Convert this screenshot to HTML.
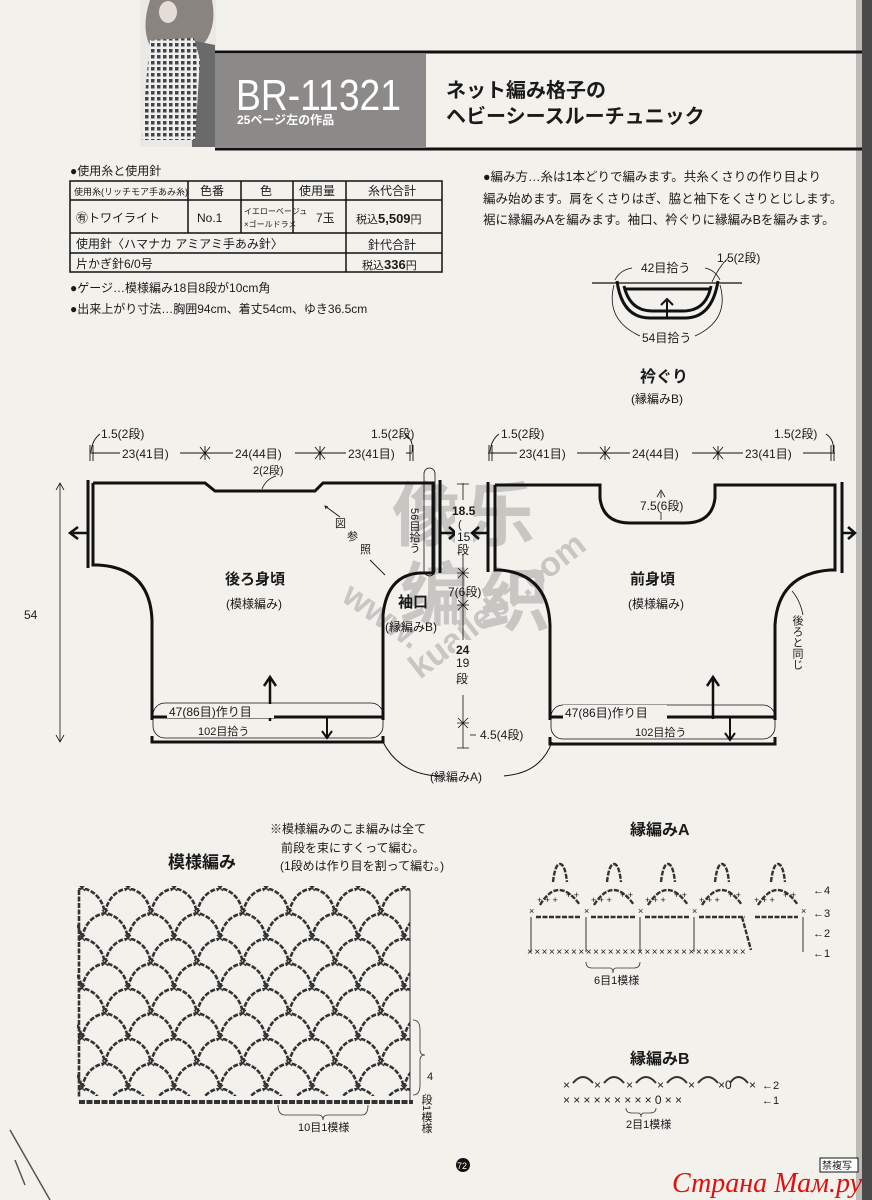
<!DOCTYPE html>
<html><head><meta charset="utf-8">
<style>
html,body{margin:0;padding:0;background:#f3f1ec;}
svg{display:block;}
text{font-family:"Liberation Sans","Noto Sans CJK JP",sans-serif;fill:#1a1a1a;}
</style></head>
<body>
<svg width="872" height="1200" viewBox="0 0 872 1200" xmlns="http://www.w3.org/2000/svg">
<defs>
<pattern id="net" patternUnits="userSpaceOnUse" x="13" y="888" width="46" height="50">
<g fill="none" stroke="#333" stroke-width="2.6" stroke-dasharray="5 1.5">
<path d="M0,25 Q4,4 23,0 Q42,4 46,25"/>
<path d="M-23,50 Q-19,29 0,25 Q19,29 23,50"/>
<path d="M23,50 Q27,29 46,25 Q65,29 69,50"/>
<path d="M-23,0 Q-19,-21 0,-25 Q19,-21 23,0"/>
<path d="M23,0 Q27,-21 46,-25 Q65,-21 69,0"/>
</g>
<g stroke="#333" stroke-width="1.2">
<path d="M-3,22 l6,6 M3,22 l-6,6 M43,22 l6,6 M49,22 l-6,6 M20,47 l6,6 M26,47 l-6,6 M20,-3 l6,6 M26,-3 l-6,6"/>
</g>
</pattern>
<pattern id="shirt" patternUnits="userSpaceOnUse" width="6" height="6">
<rect width="6" height="6" fill="#eee"/><rect x="1" y="1" width="3.5" height="3.5" fill="#444"/>
</pattern>
</defs>

<rect x="862" y="0" width="10" height="1200" fill="#4a4a4a"/>
<rect x="856" y="0" width="6" height="1200" fill="#bdbbb6"/>

<rect x="140" y="0" width="76" height="147" fill="#ebe9e5"/>
<path d="M150,0 Q140,30 152,50 L200,48 Q218,30 212,0 Z" fill="#8a8480"/>
<path d="M190,40 L215,45 L215,147 L192,147 Z" fill="#6a6a6a"/>
<path d="M150,40 L194,38 L200,60 L195,140 L142,140 Q145,90 150,40 Z" fill="url(#shirt)"/>
<ellipse cx="168" cy="12" rx="9" ry="11" fill="#e4dcd6"/>

<line x1="215" y1="52" x2="862" y2="52" stroke="#111" stroke-width="3"/>
<line x1="215" y1="149" x2="862" y2="149" stroke="#111" stroke-width="3"/>
<rect x="215" y="54" width="211" height="94" fill="#8c8a88"/>
<text x="236" y="110" font-size="44" style="fill:#fff" textLength="165" lengthAdjust="spacingAndGlyphs">BR-11321</text>
<text x="237" y="124" font-size="12" style="fill:#fff;font-weight:bold">25ページ左の作品</text>
<text x="446" y="97" font-size="20" font-weight="bold">ネット編み格子の</text>
<text x="446" y="123" font-size="20" font-weight="bold">ヘビーシースルーチュニック</text>

<text x="70" y="175" font-size="12">●使用糸と使用針</text>
<g fill="none" stroke="#111" stroke-width="1.5">
<rect x="70" y="181" width="372" height="91"/>
<line x1="70" y1="200" x2="442" y2="200"/>
<line x1="70" y1="233" x2="442" y2="233"/>
<line x1="70" y1="253" x2="442" y2="253"/>
<line x1="188" y1="181" x2="188" y2="233"/>
<line x1="241" y1="181" x2="241" y2="233"/>
<line x1="293" y1="181" x2="293" y2="233"/>
<line x1="346" y1="181" x2="346" y2="272"/>
</g>
<text x="74" y="195" font-size="9">使用糸(リッチモア手あみ糸)</text>
<text x="200" y="195" font-size="12">色番</text>
<text x="260" y="195" font-size="12">色</text>
<text x="299" y="195" font-size="12">使用量</text>
<text x="368" y="195" font-size="12">糸代合計</text>
<text x="76" y="222" font-size="12">㊒トワイライト</text>
<text x="197" y="222" font-size="12">No.1</text>
<text x="244" y="214" font-size="8">イエローベージュ</text>
<text x="244" y="227" font-size="8">×ゴールドラメ</text>
<text x="316" y="222" font-size="12">7玉</text>
<text x="356" y="223" font-size="11">税込<tspan font-size="13" font-weight="bold">5,509</tspan>円</text>
<text x="76" y="248" font-size="12">使用針〈ハマナカ アミアミ手あみ針〉</text>
<text x="368" y="249" font-size="12">針代合計</text>
<text x="76" y="268" font-size="12">片かぎ針6/0号</text>
<text x="362" y="269" font-size="11">税込<tspan font-size="13" font-weight="bold">336</tspan>円</text>
<text x="70" y="292" font-size="12">●ゲージ…模様編み18目8段が10cm角</text>
<text x="70" y="313" font-size="12">●出来上がり寸法…胸囲94cm、着丈54cm、ゆき36.5cm</text>

<text x="483" y="181" font-size="12.5">●編み方…糸は1本どりで編みます。共糸くさりの作り目より</text>
<text x="483" y="203" font-size="12.5">編み始めます。肩をくさりはぎ、脇と袖下をくさりとじします。</text>
<text x="483" y="224" font-size="12.5">裾に縁編みAを編みます。袖口、衿ぐりに縁編みBを編みます。</text>

<g fill="none" stroke="#111">
<line x1="592" y1="283" x2="742" y2="283" stroke-width="1.2"/>
<path d="M617,281 Q622,318 650,318 L685,318 Q712,318 718,281" stroke-width="3"/>
<path d="M624,286 Q630,311 652,311 L683,311 Q706,311 711,286" stroke-width="3"/>
<line x1="624" y1="289" x2="711" y2="289" stroke-width="3"/>
<line x1="667" y1="317" x2="667" y2="301" stroke-width="2"/>
<path d="M661,305 L667,299 L673,305" stroke-width="2"/>
<path d="M615,280 Q620,270 632,268" stroke-width="0.8"/>
<path d="M720,280 Q715,270 705,268" stroke-width="0.8"/>
<path d="M614,285 Q605,320 640,336" stroke-width="0.8"/>
<path d="M720,285 Q730,320 695,336" stroke-width="0.8"/>
<path d="M712,282 Q718,268 728,258" stroke-width="0.8"/>
</g>
<text x="641" y="272" font-size="12">42目拾う</text>
<text x="717" y="262" font-size="12">1.5(2段)</text>
<text x="642" y="342" font-size="12">54目拾う</text>
<text x="640" y="382" font-size="16" font-weight="bold">衿ぐり</text>
<text x="631" y="403" font-size="12">(縁編みB)</text>

<g opacity="0.4">
<text x="392" y="540" font-size="70" style="fill:#888" font-weight="bold">像</text>
<text x="465" y="540" font-size="70" style="fill:#888" font-weight="bold">乐</text>
<text x="400" y="620" font-size="70" style="fill:#888" font-weight="bold">编</text>
<text x="480" y="625" font-size="70" style="fill:#888" font-weight="bold">织</text>
<text x="0" y="0" font-size="34" style="fill:#888" font-weight="bold" transform="translate(340,600) rotate(35)">www.</text>
<text x="0" y="0" font-size="34" style="fill:#888" font-weight="bold" transform="translate(420,680) rotate(-38)">kuailebz.com</text>
</g>

<g stroke="#111" stroke-width="0.9" fill="none">
<line x1="90" y1="453" x2="412" y2="453"/>
<line x1="90" y1="445" x2="90" y2="461"/><line x1="93" y1="445" x2="93" y2="461"/>
<line x1="410" y1="445" x2="410" y2="461"/><line x1="413" y1="445" x2="413" y2="461"/>
<path d="M200,447 l10,12 M210,447 l-10,12 M205,446 v14 M315,447 l10,12 M325,447 l-10,12 M320,446 v14"/>
<line x1="488" y1="453" x2="835" y2="453"/>
<line x1="489" y1="445" x2="489" y2="461"/><line x1="492" y1="445" x2="492" y2="461"/>
<line x1="831" y1="445" x2="831" y2="461"/><line x1="834" y1="445" x2="834" y2="461"/>
<path d="M600,447 l10,12 M610,447 l-10,12 M605,446 v14 M713,447 l10,12 M723,447 l-10,12 M718,446 v14"/>
<path d="M91,452 Q92,440 100,434"/><path d="M412,452 Q414,440 405,434"/>
<path d="M490,452 Q491,440 499,434"/><path d="M833,452 Q835,440 826,434"/>
</g>
<g font-size="12">
<rect x="120" y="446" width="60" height="14" fill="#f3f1ec"/><text x="122" y="458">23(41目)</text>
<rect x="233" y="446" width="62" height="14" fill="#f3f1ec"/><text x="235" y="458">24(44目)</text>
<rect x="346" y="446" width="60" height="14" fill="#f3f1ec"/><text x="348" y="458">23(41目)</text>
<text x="101" y="438">1.5(2段)</text><text x="371" y="438">1.5(2段)</text>
<rect x="517" y="446" width="60" height="14" fill="#f3f1ec"/><text x="519" y="458">23(41目)</text>
<rect x="630" y="446" width="62" height="14" fill="#f3f1ec"/><text x="632" y="458">24(44目)</text>
<rect x="743" y="446" width="60" height="14" fill="#f3f1ec"/><text x="745" y="458">23(41目)</text>
<text x="501" y="438">1.5(2段)</text><text x="774" y="438">1.5(2段)</text>
</g>

<g fill="none" stroke="#111" stroke-width="3">
<path d="M93,483 L205,483 L215,491 L315,491 L323,483 L433,483 L433,573 L420,573 Q387,575 383,615 L383,720"/>
<path d="M93,483 L93,565 L98,565 Q150,568 152,620 L152,720"/>
<line x1="88" y1="480" x2="88" y2="568"/>
<line x1="440" y1="480" x2="440" y2="573"/>
<line x1="152" y1="717" x2="383" y2="717"/>
<path d="M152,736 L152,742 L383,742 L383,736"/>
</g>
<g stroke="#111" fill="none">
<path d="M88,533 L70,533 M78,527 L70,533 L78,539" stroke-width="2.5"/>
<path d="M440,533 L456,533 M449,527 L456,533 L449,539" stroke-width="2.5"/>
<path d="M270,721 L270,677 M264,686 L270,677 L276,686" stroke-width="2.5"/>
<path d="M327,718 L327,738 M322,731 L327,738 L332,731" stroke-width="2"/>
<rect x="153" y="703" width="230" height="35" rx="12" stroke-width="0.8"/>
<rect x="424" y="468" width="11" height="108" rx="5.5" stroke-width="0.8"/>
<line x1="60" y1="483" x2="60" y2="742" stroke-width="0.8"/>
<path d="M56,490 L60,483 L64,490 M56,735 L60,742 L64,735" stroke-width="0.8"/>
<path d="M262,489 q4,-10 14,-13" stroke-width="0.8"/>
<path d="M340,517 L325,506 M328,507 l-3,-1 l1,3" stroke-width="0.9"/>
<path d="M370,560 L385,575" stroke-width="0.9"/>
<path d="M383,742 Q400,775 440,776"/>
<path d="M552,742 Q540,775 500,776"/>
</g>
<text x="253" y="474" font-size="11">2(2段)</text>
<text x="335" y="527" font-size="11">図</text>
<text x="347" y="540" font-size="11">参</text>
<text x="360" y="553" font-size="11">照</text>
<text x="225" y="584" font-size="15" font-weight="bold">後ろ身頃</text>
<text x="226" y="608" font-size="12">(模様編み)</text>
<text x="24" y="619" font-size="12">54</text>
<rect x="167" y="704" width="107" height="14" fill="#f3f1ec"/>
<text x="169" y="716" font-size="12">47(86目)作り目</text>
<rect x="196" y="724" width="55" height="13" fill="#f3f1ec"/>
<text x="198" y="735" font-size="11">102目拾う</text>
<text x="414" y="508" font-size="11" writing-mode="tb">56目拾う</text>

<g stroke="#111" stroke-width="0.8" fill="none">
<line x1="463" y1="483" x2="463" y2="748"/>
<path d="M457,484 h12 M457,573 h12 M457,605 h12 M457,723 h12 M457,748 h12"/>
<path d="M458,568 l10,10 M468,568 l-10,10 M458,600 l10,10 M468,600 l-10,10 M458,718 l10,10 M468,718 l-10,10"/>
<path d="M470,735 h6"/>
</g>
<rect x="455" y="500" width="18" height="55" fill="#f3f1ec"/>
<text x="452" y="515" font-size="12" font-weight="bold">18.5</text>
<text x="458" y="528" font-size="11">(</text>
<text x="457" y="541" font-size="12">15</text>
<text x="457" y="554" font-size="12">段</text>
<text x="448" y="596" font-size="12">7(6段)</text>
<rect x="455" y="640" width="18" height="55" fill="#f3f1ec"/>
<text x="456" y="654" font-size="12" font-weight="bold">24</text>
<text x="456" y="667" font-size="12">19</text>
<text x="456" y="683" font-size="12">段</text>
<text x="480" y="739" font-size="12">4.5(4段)</text>
<text x="398" y="607" font-size="15" font-weight="bold">袖口</text>
<text x="385" y="631" font-size="12">(縁編みB)</text>
<rect x="442" y="768" width="62" height="16" fill="#f3f1ec"/>
<text x="430" y="781" font-size="12">(縁編みA)</text>

<g fill="none" stroke="#111" stroke-width="3">
<path d="M495,485 L600,485 L600,498 Q603,523 630,523 L685,523 Q712,523 715,498 L715,485 L835,485 L835,570 L830,570 Q778,574 775,625 L775,720"/>
<path d="M495,485 L495,570 L500,570 Q548,574 550,625 L550,720"/>
<line x1="488" y1="482" x2="488" y2="572"/>
<line x1="842" y1="482" x2="842" y2="573"/>
<line x1="550" y1="717" x2="775" y2="717"/>
<path d="M550,737 L550,744 L775,744 L775,737"/>
</g>
<g stroke="#111" fill="none">
<path d="M488,533 L472,533 M479,527 L472,533 L479,539" stroke-width="2.5"/>
<path d="M842,533 L855,533 M848,527 L855,533 L848,539" stroke-width="2.5"/>
<path d="M713,719 L713,677 M707,686 L713,677 L719,686" stroke-width="2.5"/>
<path d="M730,718 L730,740 M725,733 L730,740 L735,733" stroke-width="2"/>
<rect x="551" y="705" width="224" height="34" rx="12" stroke-width="0.8"/>
<line x1="661" y1="492" x2="661" y2="520" stroke-width="0.8"/>
<path d="M657,497 L661,490 L665,497" stroke-width="0.8"/>
<path d="M792,591 Q800,600 803,615" stroke-width="0.8"/>
</g>
<rect x="638" y="498" width="55" height="14" fill="#f3f1ec"/>
<text x="640" y="510" font-size="12">7.5(6段)</text>
<text x="630" y="584" font-size="15" font-weight="bold">前身頃</text>
<text x="628" y="608" font-size="12">(模様編み)</text>
<text x="797" y="615" font-size="11" writing-mode="tb">後ろと同じ</text>
<rect x="563" y="705" width="104" height="14" fill="#f3f1ec"/>
<text x="565" y="717" font-size="12">47(86目)作り目</text>
<rect x="633" y="725" width="55" height="13" fill="#f3f1ec"/>
<text x="635" y="736" font-size="11">102目拾う</text>

<text x="270" y="833" font-size="12">※模様編みのこま編みは全て</text>
<text x="281" y="852" font-size="12">前段を束にすくって編む。</text>
<text x="280" y="870" font-size="12">(1段めは作り目を割って編む。)</text>
<text x="168" y="868" font-size="17" font-weight="bold">模様編み</text>
<rect x="77" y="886" width="333" height="210" fill="url(#net)"/>
<g stroke="#333" fill="none">
<path d="M79,1102 L413,1102" stroke-width="4" stroke-dasharray="6 1.5"/>
<path d="M79,890 L79,1098" stroke-width="2.6" stroke-dasharray="5 1.5"/>
<line x1="410" y1="890" x2="410" y2="1100" stroke-width="1"/>
<path d="M413,1020 Q420,1020 420,1030 L420,1050 Q420,1055 425,1055 Q420,1055 420,1060 L420,1085 Q420,1095 413,1095" stroke-width="0.8"/>
<path d="M278,1105 Q278,1115 285,1115 L318,1115 Q323,1115 323,1120 Q323,1115 328,1115 L362,1115 Q368,1115 368,1105" stroke-width="0.8"/>
</g>
<text x="427" y="1080" font-size="11">4</text>
<text x="426" y="1094" font-size="11" writing-mode="tb">段1模様</text>
<text x="298" y="1131" font-size="11">10目1模様</text>

<text x="630" y="835" font-size="16" font-weight="bold">縁編みA</text>
<g stroke="#333" fill="none">
<path d="M531,952 L531,917 M586,952 L586,917 M640,952 L640,917 M694,952 L694,917 M803,952 L803,917" stroke-width="1"/>
<g stroke-width="2.4" stroke-dasharray="5 1.5">
<path d="M536,917 H580 M591,917 H635 M645,917 H689 M699,917 H745 M755,917 H798"/>
<path d="M540,905 Q558,875 580,905 M594,905 Q613,875 634,905 M648,905 Q667,875 688,905 M702,905 Q721,875 742,905 M758,905 Q777,875 798,905"/>
<path d="M553,882 q2,-18 7,-18 q5,0 7,18 M607,882 q2,-18 7,-18 q5,0 7,18 M661,882 q2,-18 7,-18 q5,0 7,18 M715,882 q2,-18 7,-18 q5,0 7,18 M771,882 q2,-18 7,-18 q5,0 7,18"/>
<path d="M742,917 L751,950"/>
</g>
</g>
<text x="527" y="955" font-size="10" letter-spacing="1.5">××××××××××××××××××××××××××××××</text>
<text x="529" y="914" font-size="9">×</text><text x="584" y="914" font-size="9">×</text><text x="638" y="914" font-size="9">×</text><text x="692" y="914" font-size="9">×</text><text x="801" y="914" font-size="9">×</text>
<g font-size="9">
<text x="537" y="903">+ + +</text><text x="566" y="898">+ +</text>
<text x="591" y="903">+ + +</text><text x="620" y="898">+ +</text>
<text x="645" y="903">+ + +</text><text x="674" y="898">+ +</text>
<text x="699" y="903">+ + +</text><text x="728" y="898">+ +</text>
<text x="754" y="903">+ + +</text><text x="783" y="898">+ +</text>
</g>
<g font-size="11">
<text x="813" y="894">←4</text><text x="813" y="917">←3</text><text x="813" y="937">←2</text><text x="813" y="957">←1</text>
</g>
<path d="M586,962 Q586,968 592,968 L610,968 Q613,968 613,973 Q613,968 616,968 L634,968 Q640,968 640,962" stroke="#333" stroke-width="0.8" fill="none"/>
<text x="594" y="984" font-size="11">6目1模様</text>

<text x="630" y="1064" font-size="16" font-weight="bold">縁編みB</text>
<text x="563" y="1089" font-size="12">×</text><text x="594" y="1089" font-size="12">×</text><text x="626" y="1089" font-size="12">×</text><text x="657" y="1089" font-size="12">×</text><text x="688" y="1089" font-size="12">×</text><text x="718" y="1089" font-size="12">×0</text><text x="749" y="1089" font-size="12">×</text>
<g stroke="#333" stroke-width="2" fill="none">
<path d="M573,1083 q10,-12 20,0 M604,1083 q10,-12 20,0 M636,1083 q10,-12 20,0 M667,1083 q10,-12 20,0 M698,1083 q10,-12 20,0 M730,1083 q8,-12 18,0"/>
</g>
<text x="563" y="1104" font-size="12" letter-spacing="3.2">×××××××××0××</text>
<text x="762" y="1089" font-size="11">←2</text>
<text x="762" y="1104" font-size="11">←1</text>
<path d="M626,1108 Q626,1113 632,1113 L638,1113 Q641,1113 641,1117 Q641,1113 644,1113 L650,1113 Q656,1113 656,1108" stroke="#333" stroke-width="0.8" fill="none"/>
<text x="626" y="1128" font-size="11">2目1模様</text>

<circle cx="463" cy="1165" r="7" fill="#111"/>
<text x="457" y="1169" font-size="9" style="fill:#fff">72</text>
<rect x="820" y="1158" width="38" height="14" fill="#fff" stroke="#111"/>
<text x="822" y="1169" font-size="10">禁複写</text>
<text x="672" y="1192" font-size="28" font-style="italic" style="fill:#e01010;font-family:'Liberation Serif',serif">Страна Мам.ру</text>
<path d="M10,1130 L50,1200 M15,1160 L25,1185" stroke="#555" stroke-width="1.5" fill="none"/>
</svg>
</body></html>
